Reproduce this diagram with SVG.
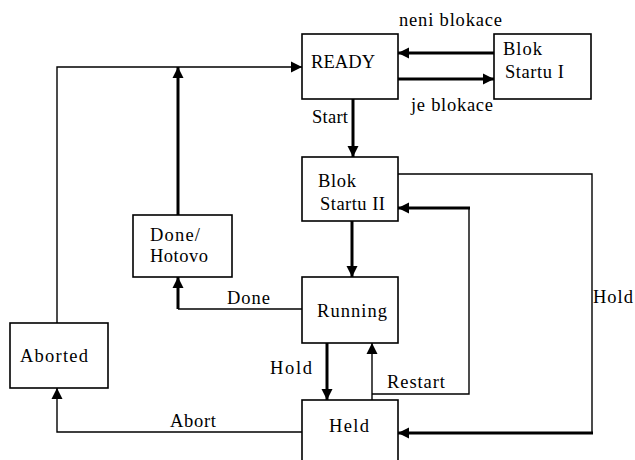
<svg xmlns="http://www.w3.org/2000/svg" width="635" height="460" viewBox="0 0 635 460">
<style>
.box{fill:#fff;stroke:#000;stroke-width:1.6}
.t{font-family:"Liberation Serif","Times New Roman",serif;font-size:18.5px;fill:#000}
.thin{fill:none;stroke:#000;stroke-width:1.4}
.thick{fill:none;stroke:#000;stroke-width:3}
</style>
<defs>
<marker id="ah" markerUnits="userSpaceOnUse" markerWidth="12" markerHeight="12" refX="11" refY="6" orient="auto">
<path d="M0,0.5 L11,6 L0,11.5 z" fill="#000"/>
</marker>
</defs>
<rect width="635" height="460" fill="#fff"/>
<g id="connectors">
<path class="thick" d="M494,53 L398,53" marker-end="url(#ah)"/>
<path class="thick" d="M398,79 L494,79" marker-end="url(#ah)"/>
<path class="thick" d="M353,99 L353,157" marker-end="url(#ah)"/>
<path class="thick" d="M352,221 L352,277" marker-end="url(#ah)"/>
<path class="thin" d="M302,309 L178,309"/>
<path class="thick" d="M178,309 L178,277" marker-end="url(#ah)"/>
<path class="thick" d="M178,215 L178,67" marker-end="url(#ah)"/>
<path class="thin" d="M57,323 L57,67 L302,67" marker-end="url(#ah)"/>
<path class="thin" d="M302,432 L57,432 L57,388" marker-end="url(#ah)"/>
<path class="thick" d="M327,343 L327,400" marker-end="url(#ah)"/>
<path class="thin" d="M372,400 L372,343" marker-end="url(#ah)"/>
<path class="thin" d="M372,394 L469,394 L469,208"/>
<path class="thick" d="M470,208 L398,208" marker-end="url(#ah)"/>
<path class="thin" d="M398,174 L592,174 L592,433"/>
<path class="thick" d="M593,433 L398,433" marker-end="url(#ah)"/>
<text class="t" x="399" y="26" textLength="103" lengthAdjust="spacing">neni blokace</text>
<text class="t" x="411" y="111" textLength="82" lengthAdjust="spacing">je blokace</text>
<text class="t" x="312" y="123" textLength="36" lengthAdjust="spacing">Start</text>
<text class="t" x="227" y="304" textLength="43" lengthAdjust="spacing">Done</text>
<text class="t" x="270" y="374" textLength="42" lengthAdjust="spacing">Hold</text>
<text class="t" x="387" y="388" textLength="58" lengthAdjust="spacing">Restart</text>
<text class="t" x="593" y="303" textLength="40" lengthAdjust="spacing">Hold</text>
<text class="t" x="170" y="427" textLength="46" lengthAdjust="spacing">Abort</text>
</g>
<g id="ready"><rect class="box" x="302" y="34" width="96" height="65"/><text class="t" x="311" y="68" textLength="64" lengthAdjust="spacing">READY</text></g>
<g id="blok1"><rect class="box" x="494" y="34" width="97" height="65"/><text class="t" x="503" y="55" textLength="39" lengthAdjust="spacing">Blok</text><text class="t" x="505" y="78" textLength="59" lengthAdjust="spacing">Startu I</text></g>
<g id="blok2"><rect class="box" x="302" y="157" width="96" height="64"/><text class="t" x="318" y="187" textLength="38" lengthAdjust="spacing">Blok</text><text class="t" x="320" y="210" textLength="65" lengthAdjust="spacing">Startu II</text></g>
<g id="done"><rect class="box" x="133" y="215" width="99" height="62"/><text class="t" x="150" y="241" textLength="50" lengthAdjust="spacing">Done/</text><text class="t" x="150" y="262" textLength="58" lengthAdjust="spacing">Hotovo</text></g>
<g id="running"><rect class="box" x="302" y="277" width="96" height="66"/><text class="t" x="317" y="317" textLength="70" lengthAdjust="spacing">Running</text></g>
<g id="aborted"><rect class="box" x="10" y="323" width="98" height="65"/><text class="t" x="20" y="362" textLength="68" lengthAdjust="spacing">Aborted</text></g>
<g id="held"><rect class="box" x="302" y="400" width="96" height="70"/><text class="t" x="329" y="432" textLength="40" lengthAdjust="spacing">Held</text></g>
</svg>
